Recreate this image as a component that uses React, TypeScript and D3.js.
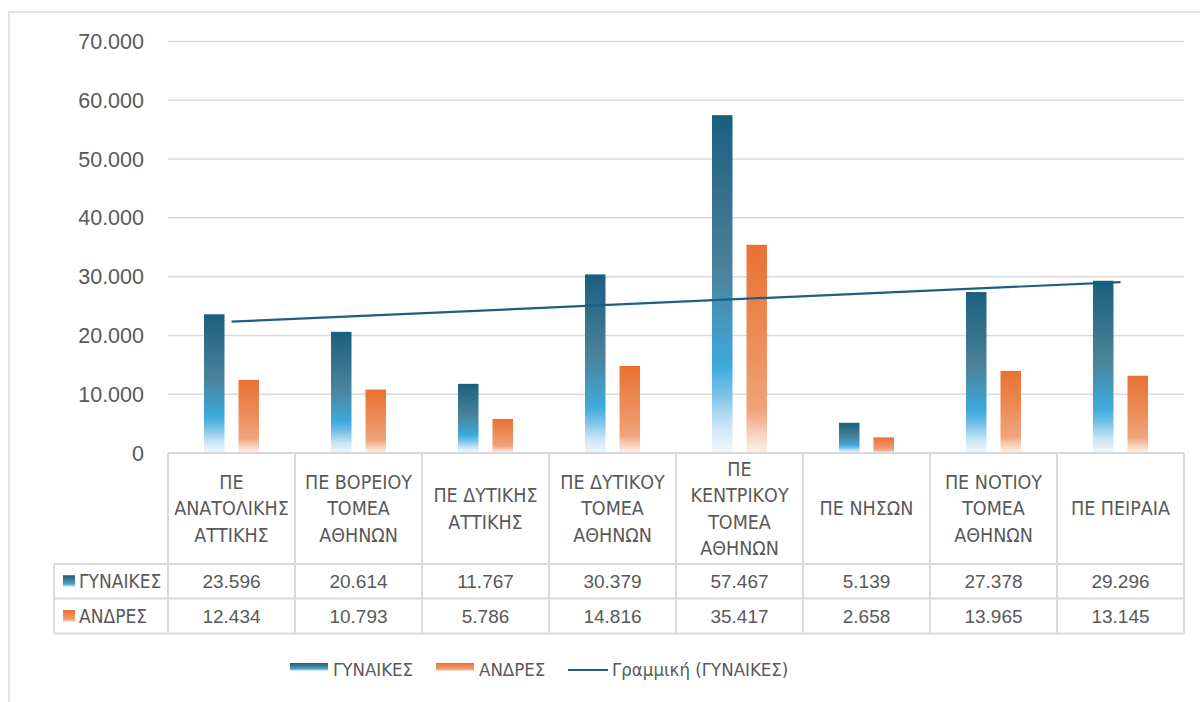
import React, { useEffect, useRef } from 'react';
import * as d3 from 'd3';

const categories = [
  ['ΠΕ', 'ΑΝΑΤΟΛΙΚΗΣ', 'ΑΤΤΙΚΗΣ'],
  ['ΠΕ ΒΟΡΕΙΟΥ', 'ΤΟΜΕΑ', 'ΑΘΗΝΩΝ'],
  ['ΠΕ ΔΥΤΙΚΗΣ', 'ΑΤΤΙΚΗΣ'],
  ['ΠΕ ΔΥΤΙΚΟΥ', 'ΤΟΜΕΑ', 'ΑΘΗΝΩΝ'],
  ['ΠΕ', 'ΚΕΝΤΡΙΚΟΥ', 'ΤΟΜΕΑ', 'ΑΘΗΝΩΝ'],
  ['ΠΕ ΝΗΣΩΝ'],
  ['ΠΕ ΝΟΤΙΟΥ', 'ΤΟΜΕΑ', 'ΑΘΗΝΩΝ'],
  ['ΠΕ ΠΕΙΡΑΙΑ'],
];
const women = [23596, 20614, 11767, 30379, 57467, 5139, 27378, 29296];
const men = [12434, 10793, 5786, 14816, 35417, 2658, 13965, 13145];
const seriesNames = ['ΓΥΝΑΙΚΕΣ', 'ΑΝΔΡΕΣ'];
const trendName = 'Γραμμική (ΓΥΝΑΙΚΕΣ)';
const yTicks = [0, 10000, 20000, 30000, 40000, 50000, 60000, 70000];

const GREY = '#595959';
const LINE = '#d9d9d9';
const NARROW = '"Liberation Sans Narrow", "Arial Narrow", "DejaVu Sans Condensed", sans-serif';
const SANS = '"Liberation Sans", Arial, sans-serif';

const App: React.FC = () => {
  const svgRef = useRef<SVGSVGElement>(null);

  useEffect(() => {
    if (!svgRef.current) return;
    const svg = d3.select(svgRef.current);
    svg.selectAll('*').remove();

    const left = 168, right = 1184, top = 41.5, base = 453;
    const tableLeft = 54;
    const rowH = [111, 34.5, 35];

    const fmt = d3.formatLocale({ decimal: ',', thousands: '.', grouping: [3], currency: ['', '€'] }).format(',d');

    const keys = categories.map(c => c.join(' '));
    const x = d3.scaleBand<string>().domain(keys).range([left, right]);
    const sub = d3.scaleBand<string>().domain(seriesNames).range([0, x.bandwidth()])
      .paddingInner(0.406).paddingOuter(1.044);
    const y = d3.scaleLinear().domain([0, 70000]).range([base, top]);

    // gradients
    const defs = svg.append('defs');
    const grad = (id: string, stops: [number, string][]) => {
      const g = defs.append('linearGradient').attr('id', id)
        .attr('x1', 0).attr('y1', 0).attr('x2', 0).attr('y2', 1);
      stops.forEach(([o, c]) => g.append('stop').attr('offset', o).attr('stop-color', c));
    };
    grad('gW', [[0, '#1a5f80'], [0.45, '#4a8199'], [0.74, '#3eaadd'], [0.82, '#74c0e6'], [0.92, '#c9e6f5'], [1, '#f0f8fd']]);
    grad('gM', [[0, '#e97132'], [0.5, '#ec8f5c'], [0.8, '#f0a47b'], [0.9, '#f7cfb7'], [1, '#fdf3ec']]);
    const fills = ['url(#gW)', 'url(#gM)'];

    // outer frame
    svg.append('rect').attr('x', 9).attr('y', 12).attr('width', 1200).attr('height', 700)
      .attr('fill', 'none').attr('stroke', LINE).attr('stroke-width', 1.5);

    // gridlines
    svg.append('g').selectAll('line').data(yTicks.filter(t => t > 0)).join('line')
      .attr('x1', left).attr('x2', right)
      .attr('y1', d => y(d)).attr('y2', d => y(d))
      .attr('stroke', LINE).attr('stroke-width', 1.5);

    // tick labels
    svg.append('g').selectAll('text').data(yTicks).join('text')
      .attr('x', 144).attr('y', d => y(d)).attr('dy', '0.35em')
      .attr('text-anchor', 'end').attr('fill', GREY)
      .attr('font-family', SANS).attr('font-size', 21.5)
      .text(d => fmt(d));

    // bars
    const data = [women, men];
    data.forEach((vals, si) => {
      svg.append('g').selectAll('rect').data(vals).join('rect')
        .attr('x', (_, i) => x(keys[i])! + sub(seriesNames[si])!)
        .attr('width', sub.bandwidth())
        .attr('y', d => y(d))
        .attr('height', d => base - y(d))
        .attr('fill', fills[si]);
    });

    // linear trend for women
    const n = women.length;
    const xs = women.map((_, i) => i + 1);
    const mx = d3.mean(xs)!, my = d3.mean(women)!;
    const slope = d3.sum(xs, (xi, i) => (xi - mx) * (women[i] - my)) / d3.sum(xs, xi => (xi - mx) ** 2);
    const icpt = my - slope * mx;
    const cx = (i: number) => x(keys[i])! + x.bandwidth() / 2;
    svg.append('line')
      .attr('x1', cx(0)).attr('y1', y(icpt + slope * 1))
      .attr('x2', cx(n - 1)).attr('y2', y(icpt + slope * n))
      .attr('stroke', '#1d6083').attr('stroke-width', 2.2);

    // data table
    const t = svg.append('g').attr('stroke', LINE).attr('stroke-width', 2).attr('fill', 'none');
    const y1 = base + rowH[0], y2 = y1 + rowH[1], y3 = y2 + rowH[2];
    t.append('line').attr('x1', left).attr('x2', right).attr('y1', base).attr('y2', base);
    [y1, y2, y3].forEach(yy => t.append('line').attr('x1', tableLeft).attr('x2', right).attr('y1', yy).attr('y2', yy));
    t.append('line').attr('x1', tableLeft).attr('x2', tableLeft).attr('y1', y1).attr('y2', y3);
    keys.forEach(k => t.append('line').attr('x1', x(k)!).attr('x2', x(k)!).attr('y1', base).attr('y2', y3));
    t.append('line').attr('x1', right).attr('x2', right).attr('y1', base).attr('y2', y3);

    // category labels
    const lh = 26.5;
    const midHead = base + rowH[0] / 2;
    categories.forEach((lines, i) => {
      const txt = svg.append('text').attr('text-anchor', 'middle').attr('fill', GREY)
        .attr('font-family', NARROW).attr('font-size', 19.5);
      lines.forEach((ln, j) => {
        txt.append('tspan').attr('x', cx(i))
          .attr('y', midHead + (j - (lines.length - 1) / 2) * lh)
          .attr('dy', '0.35em').text(ln);
      });
    });

    // row values
    const rowMids = [y1 + rowH[1] / 2, y2 + rowH[2] / 2];
    data.forEach((vals, si) => {
      svg.append('g').selectAll('text').data(vals).join('text')
        .attr('x', (_, i) => cx(i)).attr('y', rowMids[si]).attr('dy', '0.35em')
        .attr('text-anchor', 'middle').attr('fill', GREY)
        .attr('font-family', SANS).attr('font-size', 19)
        .text(d => fmt(d));
      svg.append('rect').attr('x', 63).attr('y', rowMids[si] - 6).attr('width', 12).attr('height', 12)
        .attr('fill', fills[si]);
      svg.append('text').attr('x', 79).attr('y', rowMids[si]).attr('dy', '0.35em')
        .attr('fill', GREY).attr('font-family', NARROW).attr('font-size', 19)
        .text(seriesNames[si]);
    });

    // legend
    const ly = 670;
    const lg = svg.append('g').attr('font-family', NARROW).attr('font-size', 18.5).attr('fill', GREY);
    const legendX = [290, 436];
    seriesNames.forEach((s, si) => {
      lg.append('rect').attr('x', legendX[si]).attr('y', ly - 7).attr('width', 38).attr('height', 8)
        .attr('fill', fills[si]);
      lg.append('text').attr('x', legendX[si] + 43).attr('y', ly).attr('dy', '0.3em').text(s);
    });
    lg.append('line').attr('x1', 568).attr('x2', 608).attr('y1', ly).attr('y2', ly)
      .attr('stroke', '#1d6083').attr('stroke-width', 2.2);
    lg.append('text').attr('x', 612).attr('y', ly).attr('dy', '0.3em').text(trendName);
  }, []);

  return (
    <svg ref={svgRef} width={1200} height={702}
      style={{ position: 'absolute', left: 0, top: 0, background: '#fff' }} />
  );
};

export default App;
